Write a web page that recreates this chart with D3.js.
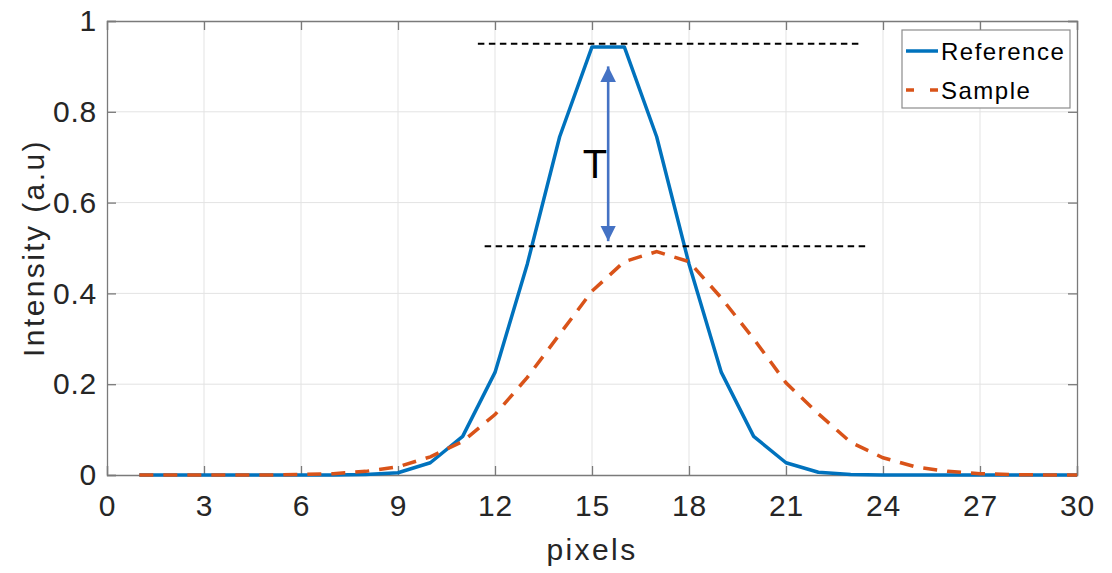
<!DOCTYPE html>
<html><head><meta charset="utf-8">
<script src="https://cdn.jsdelivr.net/npm/d3@7"></script>
<style>
html,body{margin:0;padding:0;background:#fff;}
svg{display:block;font-family:"Liberation Sans",Arial,sans-serif;}
</style></head>
<body>
<svg id="c" width="1112" height="573"></svg>
<script>
const pixels = d3.range(1, 31);
const referenceValues = [0,0,0,0,0,0,0,0.001,0.005,0.027,0.085,0.226,0.465,0.745,0.943,0.943,0.745,0.465,0.226,0.085,0.027,0.006,0.001,0,0,0,0,0,0,0];
const sampleValues = [0,0,0,0,0,0.001,0.003,0.008,0.018,0.04,0.074,0.133,0.215,0.31,0.405,0.47,0.492,0.47,0.39,0.3,0.203,0.135,0.072,0.038,0.018,0.008,0.003,0.001,0,0];
const xTicks = [0,3,6,9,12,15,18,21,24,27,30];
const yTicks = [0,0.2,0.4,0.6,0.8,1];
const seriesNames = ["Reference","Sample"];
const refLevels = [0.95, 0.504];
const refLineSpans = [[11.47, 23.35],[11.68, 23.57]];
const arrowX = 15.5;
const arrowSpan = [0.9, 0.515];

const svg = d3.select("#c");
const m = {l:107, r:1077, t:21, b:475};
const x = d3.scaleLinear().domain([0,30]).range([m.l, m.r]);
const y = d3.scaleLinear().domain([0,1]).range([m.b, m.t]);
const txt = "#262626";

// grid
svg.append("g").selectAll("line").data(xTicks.slice(1,-1)).join("line")
  .attr("x1", d=>x(d)).attr("x2", d=>x(d)).attr("y1", m.t).attr("y2", m.b)
  .attr("stroke", "#e3e3e3").attr("stroke-width", 1);
svg.append("g").selectAll("line").data(yTicks.slice(1,-1)).join("line")
  .attr("y1", d=>y(d)).attr("y2", d=>y(d)).attr("x1", m.l).attr("x2", m.r)
  .attr("stroke", "#e3e3e3").attr("stroke-width", 1);

// axes
const axB = d3.axisBottom(x).tickValues(xTicks).tickSize(-9).tickPadding(20).tickFormat(d3.format("d"));
const axT = d3.axisTop(x).tickValues(xTicks).tickSize(-9).tickFormat("");
const axL = d3.axisLeft(y).tickValues(yTicks).tickSize(-9).tickPadding(10).tickFormat(d=> d===0||d===1 ? String(d) : d3.format(".1f")(d));
const axR = d3.axisRight(y).tickValues(yTicks).tickSize(-9).tickFormat("");
function styleAx(g){
  g.select(".domain").attr("stroke","#7a7a7a").attr("stroke-width",1.3);
  g.selectAll(".tick line").attr("stroke","#7a7a7a").attr("stroke-width",1.3);
  g.selectAll(".tick text").attr("fill",txt).attr("font-size",30).attr("letter-spacing","0.8px")
    .attr("font-family","Liberation Sans, Arial, sans-serif");
}
svg.append("g").attr("transform",`translate(0,${m.b})`).call(axB).call(styleAx);
svg.append("g").attr("transform",`translate(0,${m.t})`).call(axT).call(styleAx);
svg.append("g").attr("transform",`translate(${m.l},0)`).call(axL).call(styleAx);
svg.append("g").attr("transform",`translate(${m.r},0)`).call(axR).call(styleAx);
svg.selectAll(".domain").attr("d", function(){ return d3.select(this).attr("d").replace(/V[-\d.]+V/,"V"); });

// lines
const line = d3.line().x((d,i)=>x(pixels[i])).y(d=>y(d));
svg.append("path").datum(referenceValues).attr("d", line)
  .attr("fill","none").attr("stroke","#0072BD").attr("stroke-width",3.5).attr("stroke-linejoin","round");
svg.append("path").datum(sampleValues).attr("d", line)
  .attr("fill","none").attr("stroke","#D95319").attr("stroke-width",3.5).attr("stroke-dasharray","14,10");

// annotation dashed lines
svg.append("g").selectAll("line").data(refLevels).join("line")
  .attr("x1",(d,i)=>x(refLineSpans[i][0])).attr("x2",(d,i)=>x(refLineSpans[i][1]))
  .attr("y1",d=>y(d)).attr("y2",d=>y(d))
  .attr("stroke","#000").attr("stroke-width",2).attr("stroke-dasharray","6.5,4.5");

// double arrow
const defs = svg.append("defs");
defs.append("marker").attr("id","ah").attr("viewBox","0 0 10 10").attr("refX",10).attr("refY",5)
  .attr("markerWidth",6).attr("markerHeight",6).attr("markerUnits","strokeWidth").attr("orient","auto-start-reverse")
  .append("path").attr("d","M0,0L10,5L0,10Z").attr("fill","#4472C4");
svg.append("line").attr("x1",x(arrowX)).attr("x2",x(arrowX)).attr("y1",y(arrowSpan[1])).attr("y2",y(arrowSpan[0]))
  .attr("stroke","#4472C4").attr("stroke-width",2.6)
  .attr("marker-start","url(#ah)").attr("marker-end","url(#ah)");
svg.append("text").attr("x",595).attr("y",178).attr("text-anchor","middle")
  .attr("font-size",40).attr("fill","#000").text("T");

// axis labels
svg.append("text").attr("x",592).attr("y",560).attr("text-anchor","middle")
  .attr("font-size",30).attr("letter-spacing","2.4px").attr("fill",txt).text("pixels");
svg.append("text").attr("transform",`translate(43.5,248) rotate(-90)`).attr("text-anchor","middle")
  .attr("font-size",30).attr("letter-spacing","2.4px").attr("fill",txt).text("Intensity (a.u)");

// legend
const lg = svg.append("g");
lg.append("rect").attr("x",902).attr("y",30).attr("width",168).attr("height",78)
  .attr("fill","#fff").attr("stroke","#8c8c8c").attr("stroke-width",1.2);
const colors = ["#0072BD","#D95319"];
seriesNames.forEach((n,i)=>{
  const yy = 51 + i*39;
  lg.append("line").attr("x1",906).attr("x2",938).attr("y1",yy).attr("y2",yy)
    .attr("stroke",colors[i]).attr("stroke-width",3.5).attr("stroke-dasharray", i===1 ? "8,16" : null);
  lg.append("text").attr("x",941).attr("y",yy+8.5).attr("font-size",24).attr("letter-spacing","1.5px")
    .attr("fill","#000").text(n);
});
</script>
</body></html>
